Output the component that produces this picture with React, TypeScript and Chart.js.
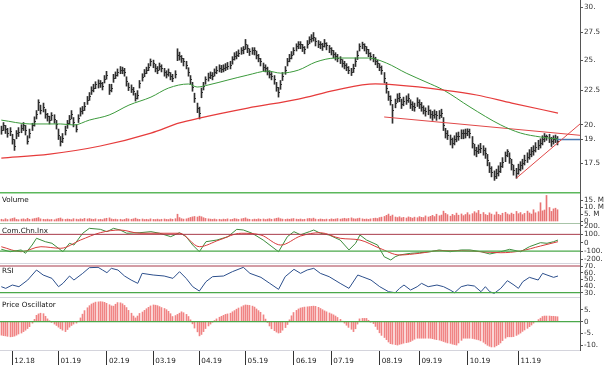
import React, { useEffect, useRef } from 'react';
import { Chart, registerables } from 'chart.js';
Chart.register(...registerables);

const X_MIN = -0.6;
const X_MAX = 263;
const monthIdx = [5, 26, 48, 69, 90, 111, 133, 150, 172, 190, 212, 235];
const monthLabels = ['12.18', '01.19', '02.19', '03.19', '04.19', '05.19', '06.19', '07.19', '08.19', '09.19', '10.19', '11.19'];

const closes = [
  19.63, 19.91, 19.70, 19.43, 19.56, 18.97, 18.58, 19.37, 19.50, 19.77,
  19.91, 19.63, 18.90, 19.43, 19.91, 20.25, 20.75, 21.63, 21.04, 21.26,
  20.75, 20.54, 20.32, 20.61, 20.39, 19.98, 19.30, 18.84, 19.10, 19.63,
  20.05, 20.39, 20.75, 20.12, 19.70, 20.46, 20.90, 21.04, 21.33, 21.78,
  22.08, 22.54, 22.70, 22.94, 23.02, 23.02, 22.86, 23.42, 23.74, 22.54,
  22.70, 23.50, 23.74, 23.98, 24.15, 24.15, 23.98, 23.18, 22.78, 22.62,
  22.46, 21.93, 22.16, 23.02, 23.58, 23.90, 24.15, 24.41, 24.84, 24.67,
  24.32, 24.15, 24.49, 24.32, 23.98, 23.82, 23.98, 23.66, 23.50, 23.82,
  25.44, 25.35, 25.10, 24.84, 24.58, 23.98, 23.34, 22.78, 21.93, 21.18,
  20.82, 22.39, 22.86, 23.34, 23.58, 23.74, 23.66, 23.98, 24.15, 24.32,
  24.24, 24.32, 24.41, 24.49, 24.58, 25.01, 25.35, 25.44, 25.62, 25.80,
  25.89, 26.43, 25.98, 25.71, 25.80, 25.80, 25.44, 25.18, 24.84, 24.41,
  24.32, 24.07, 23.82, 23.66, 23.34, 22.78, 22.39, 22.94, 23.66, 24.15,
  24.84, 25.18, 25.44, 25.80, 26.16, 26.34, 26.34, 26.07, 25.89, 26.43,
  26.80, 26.98, 27.07, 26.62, 26.43, 26.34, 26.16, 26.52, 26.25, 25.98,
  25.80, 25.53, 25.35, 25.18, 25.01, 24.75, 24.58, 24.41, 24.15, 23.98,
  24.32, 24.84, 25.44, 26.16, 26.34, 26.16, 25.89, 25.62, 25.35, 25.18,
  24.92, 24.67, 24.41, 24.15, 23.50, 22.70, 22.08, 21.78, 21.04, 21.55,
  21.93, 22.00, 21.48, 21.70, 21.78, 21.93, 21.48, 21.33, 21.26, 21.63,
  21.48, 21.26, 21.04, 20.90, 21.04, 20.75, 20.61, 20.75, 20.61, 20.68,
  20.82, 19.91, 19.43, 19.30, 18.97, 18.77, 18.97, 19.17, 19.23, 19.37,
  19.37, 19.43, 19.56, 19.43, 18.77, 18.32, 18.20, 18.38, 18.45, 18.32,
  18.13, 17.70, 17.22, 16.98, 16.75, 16.87, 17.04, 17.28, 17.58, 17.95,
  18.20, 17.82, 17.40, 17.10, 16.87, 17.16, 17.34, 17.46, 17.70, 17.88,
  18.07, 18.20, 18.32, 18.51, 18.64, 18.77, 18.97, 19.17, 19.23, 19.10,
  18.84, 18.97, 19.10, 18.90,
];

const highs = [
  19.90, 20.15, 19.95, 19.75, 19.80, 19.35, 19.00, 19.60, 19.80, 20.00,
  20.15, 19.95, 19.25, 19.70, 20.10, 20.55, 21.00, 21.80, 21.40, 21.55,
  21.10, 20.80, 20.60, 20.85, 20.70, 20.30, 19.70, 19.20, 19.40, 19.90,
  20.30, 20.65, 21.00, 20.50, 20.00, 20.70, 21.20, 21.30, 21.60, 22.05,
  22.35, 22.80, 23.00, 23.20, 23.35, 23.30, 23.15, 23.70, 24.05, 23.00,
  23.00, 23.80, 24.00, 24.25, 24.45, 24.40, 24.30, 23.60, 23.10, 22.95,
  22.75, 22.30, 22.50, 23.30, 23.85, 24.20, 24.40, 24.70, 25.10, 25.00,
  24.65, 24.45, 24.75, 24.60, 24.30, 24.10, 24.25, 23.95, 23.80, 24.10,
  26.00, 25.70, 25.40, 25.15, 24.90, 24.35, 23.70, 23.15, 22.30, 21.55,
  21.25, 22.70, 23.15, 23.60, 23.90, 24.00, 23.95, 24.25, 24.45, 24.60,
  24.55, 24.60, 24.70, 24.80, 24.90, 25.30, 25.65, 25.75, 25.90, 26.10,
  26.20, 26.85, 26.35, 26.00, 26.10, 26.10, 25.80, 25.50, 25.15, 24.75,
  24.60, 24.40, 24.10, 23.95, 23.70, 23.15, 22.75, 23.30, 23.95, 24.45,
  25.15, 25.50, 25.75, 26.10, 26.45, 26.65, 26.65, 26.40, 26.20, 26.75,
  27.10, 27.30, 27.50, 27.00, 26.75, 26.65, 26.50, 26.85, 26.55, 26.30,
  26.10, 25.85, 25.65, 25.50, 25.30, 25.05, 24.90, 24.70, 24.45, 24.30,
  24.65, 25.20, 25.80, 26.45, 26.60, 26.45, 26.20, 25.95, 25.65, 25.50,
  25.25, 25.00, 24.70, 24.50, 23.95, 23.15, 22.45, 22.10, 21.45, 21.85,
  22.25, 22.30, 21.85, 22.00, 22.10, 22.25, 21.80, 21.65, 21.55, 21.95,
  21.80, 21.60, 21.35, 21.20, 21.35, 21.05, 20.95, 21.05, 20.95, 21.00,
  21.10, 20.50, 19.75, 19.60, 19.30, 19.10, 19.25, 19.45, 19.50, 19.65,
  19.65, 19.70, 19.72, 19.70, 19.20, 18.70, 18.50, 18.65, 18.75, 18.60,
  18.45, 18.05, 17.55, 17.30, 17.05, 17.15, 17.35, 17.55, 17.85, 18.20,
  18.35, 18.15, 17.75, 17.40, 17.20, 17.45, 17.60, 17.75, 18.00, 18.15,
  18.35, 18.50, 18.60, 18.80, 18.95, 19.05, 19.25, 19.40, 19.30, 19.35,
  19.15, 19.25, 19.30, 19.20,
];

const lows = [
  19.35, 19.60, 19.40, 19.15, 19.25, 18.70, 18.30, 19.05, 19.20, 19.45,
  19.60, 19.30, 18.70, 19.10, 19.60, 19.90, 20.40, 21.00, 20.75, 20.90,
  20.45, 20.25, 20.05, 20.30, 20.10, 19.70, 19.00, 18.58, 18.80, 19.30,
  19.75, 20.05, 20.40, 19.85, 19.50, 20.15, 20.60, 20.75, 21.00, 21.45,
  21.75, 22.20, 22.40, 22.65, 22.70, 22.75, 22.55, 23.10, 23.40, 22.20,
  22.40, 23.15, 23.45, 23.65, 23.85, 23.85, 23.65, 22.85, 22.50, 22.35,
  22.15, 21.70, 21.85, 22.70, 23.25, 23.60, 23.85, 24.10, 24.50, 24.35,
  24.00, 23.85, 24.15, 24.00, 23.65, 23.50, 23.65, 23.35, 23.20, 23.50,
  24.95, 25.00, 24.80, 24.50, 24.25, 23.65, 23.00, 22.45, 21.60, 20.85,
  20.40, 21.95, 22.55, 23.00, 23.25, 23.45, 23.35, 23.65, 23.85, 24.00,
  23.95, 24.00, 24.10, 24.20, 24.25, 24.65, 25.00, 25.10, 25.30, 25.50,
  25.55, 25.95, 25.65, 25.40, 25.50, 25.45, 25.10, 24.85, 24.50, 24.10,
  24.00, 23.75, 23.50, 23.35, 23.00, 22.45, 22.00, 22.60, 23.30, 23.80,
  24.50, 24.85, 25.10, 25.45, 25.80, 26.00, 26.00, 25.75, 25.55, 26.05,
  26.45, 26.60, 26.70, 26.25, 26.10, 26.00, 25.85, 26.15, 25.90, 25.65,
  25.45, 25.20, 25.00, 24.85, 24.70, 24.40, 24.25, 24.10, 23.85, 23.70,
  23.95, 24.45, 25.05, 25.80, 26.00, 25.80, 25.55, 25.30, 25.00, 24.85,
  24.60, 24.35, 24.10, 23.80, 23.10, 22.30, 21.75, 21.40, 20.10, 21.20,
  21.60, 21.65, 21.15, 21.35, 21.45, 21.60, 21.15, 21.00, 20.95, 21.30,
  21.15, 20.95, 20.75, 20.60, 20.70, 20.45, 20.30, 20.45, 20.30, 20.40,
  20.50, 19.60, 19.10, 19.00, 18.65, 18.45, 18.65, 18.85, 18.95, 19.05,
  19.05, 19.10, 19.25, 19.10, 18.45, 18.00, 17.90, 18.10, 18.15, 18.00,
  17.80, 17.35, 16.95, 16.70, 16.50, 16.60, 16.75, 16.95, 17.25, 17.60,
  17.90, 17.50, 17.10, 16.80, 16.62, 16.85, 17.05, 17.15, 17.40, 17.55,
  17.75, 17.90, 18.00, 18.20, 18.35, 18.45, 18.65, 18.85, 18.95, 18.80,
  18.55, 18.70, 18.80, 18.65,
];

const maGreenIdx = [0, 13, 27, 33, 40, 49, 58, 68, 76, 85, 89, 94, 103, 112, 121, 127, 135, 143, 152, 161, 167, 175, 184, 193, 201, 213, 227, 236, 245, 253];
const maGreenVal = [20.32, 20.05, 20.05, 19.98, 20.32, 20.68, 21.40, 22.00, 22.70, 23.02, 22.78, 22.94, 23.34, 23.74, 24.07, 23.90, 24.15, 24.84, 25.18, 25.18, 25.18, 24.75, 23.90, 23.18, 22.54, 21.26, 19.98, 19.43, 19.17, 19.03];

const maRedIdx = [0, 22, 45, 68, 81, 90, 112, 135, 152, 170, 179, 201, 216, 232, 253];
const maRedVal = [17.82, 18.07, 18.58, 19.43, 20.12, 20.46, 21.18, 21.85, 22.54, 23.02, 22.94, 22.54, 22.16, 21.55, 20.82];

const trendDownIdx = [174, 263];
const trendDownVal = [20.54, 19.28];
const trendUpIdx = [234, 263];
const trendUpVal = [16.62, 20.05];
const lastLevelIdx = [252, 263];
const lastLevelVal = [19.0, 19.0];

const priceTicks = [17.5, 19, 20, 22.5, 25, 27.5, 30];

const volumeM = [
  1.6, 1.2, 2.0, 1.4, 1.8, 2.2, 2.6, 1.5, 1.3, 1.7,
  1.9, 1.4, 2.3, 1.6, 1.8, 2.1, 2.4, 2.8, 1.9, 1.6,
  1.4, 1.7, 1.3, 1.5, 1.2, 1.8, 2.2, 2.5, 1.7, 1.5,
  1.8, 1.6, 1.3, 2.0, 1.7, 1.4, 1.9, 1.6, 2.2, 1.8,
  2.1, 1.7, 1.5, 1.9, 1.4, 1.6, 1.3, 2.0, 2.3, 2.6,
  1.8, 1.5, 1.7, 1.4, 1.6, 1.2, 1.5, 2.1, 1.8, 1.6,
  1.9, 2.4, 1.7, 1.5, 1.8, 1.4, 1.6, 1.3, 1.9, 1.5,
  1.4, 1.7, 1.3, 1.6, 1.8, 1.5, 1.4, 1.9, 1.6, 2.0,
  5.2, 2.8, 2.0, 1.7, 1.9, 2.4, 2.9, 3.3, 3.6, 3.2,
  3.8, 3.4, 2.7, 2.2, 1.9, 1.7, 1.5, 1.8, 1.4, 1.6,
  1.3, 1.7, 1.5, 1.9, 1.4, 1.6, 2.1, 1.8, 1.5, 1.9,
  2.2, 2.6, 1.8, 1.6, 1.4, 1.7, 1.5, 1.9, 1.6, 1.8,
  1.4, 1.7, 2.0, 1.6, 1.9, 2.3, 2.6, 2.0, 1.7, 1.5,
  1.8, 1.6, 1.9, 2.1, 1.7, 1.5, 1.8, 1.4, 1.6, 2.0,
  2.2, 1.9, 2.4, 1.7, 1.5, 1.8, 1.6, 1.4, 1.7, 1.5,
  1.9, 1.6, 1.8, 2.1, 1.7, 2.0, 2.3, 1.9, 2.2, 2.6,
  2.0, 1.8, 2.1, 2.4, 1.9, 1.6, 1.8, 1.5, 1.9, 2.2,
  2.4, 2.1, 2.8, 3.1, 3.6, 4.4, 5.3, 3.8, 4.6, 3.2,
  2.8, 3.4, 2.6, 3.0, 2.5, 3.3, 2.9, 2.4, 3.1, 2.7,
  3.5, 3.0, 2.8, 4.0, 3.2, 3.7, 4.4, 3.5, 5.2, 4.1,
  4.6, 7.4, 5.8, 4.9, 3.8, 5.1, 4.3, 6.0, 4.5, 5.4,
  4.2, 5.0, 6.3, 4.8, 5.6, 7.0, 6.1, 7.9, 5.2, 6.4,
  5.0, 4.4, 6.2, 5.3, 4.7, 6.8, 5.1, 4.5, 5.9, 6.6,
  5.4, 4.8, 6.0, 5.2, 7.2, 5.6, 6.4, 4.9, 5.8, 7.4,
  6.1, 5.3, 8.4, 6.2, 7.0, 13.4, 7.6, 8.2, 18.6, 10.0,
  7.2, 9.0, 9.5, 8.4,
];
const volumeTicks = [0, 5, 10, 15];

const cciIdx = [0, 4, 9, 11, 14, 16, 20, 23, 28, 31, 33, 37, 40, 45, 48, 51, 54, 57, 63, 68, 72, 77, 81, 84, 87, 90, 93, 98, 103, 107, 110, 114, 119, 123, 126, 130, 133, 136, 140, 142, 145, 149, 154, 158, 161, 163, 166, 171, 174, 177, 179, 181, 186, 190, 195, 199, 204, 209, 213, 218, 222, 227, 231, 236, 240, 245, 248, 251, 253];
const cciVal = [-79, -108, -87, -127, -28, 53, 12, -7, -108, -7, -28, 113, 172, 160, 132, 172, 152, 113, 120, 132, 113, 72, 120, 72, -28, -108, 12, 32, 72, 160, 152, 113, 32, -48, -108, 72, 132, 95, 132, 152, 113, 92, 32, -87, -7, 92, 32, -28, -168, -207, -168, -147, -127, -120, -108, -87, -108, -87, -87, -108, -135, -108, -79, -108, -48, 0, -7, 12, 32];
const cciSignalIdx = [0, 9, 18, 27, 36, 45, 54, 63, 72, 81, 90, 99, 109, 118, 127, 136, 145, 154, 163, 172, 181, 190, 199, 209, 218, 227, 236, 245, 253];
const cciSignalVal = [-48, -108, -48, -67, 32, 120, 152, 113, 113, 113, -48, 32, 113, 92, -28, 80, 120, 53, 32, -67, -147, -127, -96, -96, -108, -120, -99, -40, 12];
const cciTicks = [-200, -100, 0, 100, 200];

const rsiIdx = [0, 2, 5, 8, 12, 14, 16, 19, 23, 26, 28, 31, 33, 37, 40, 44, 46, 48, 50, 53, 56, 59, 62, 64, 69, 74, 78, 81, 84, 87, 90, 93, 96, 101, 105, 110, 113, 118, 122, 126, 129, 133, 136, 139, 142, 145, 149, 154, 158, 162, 164, 168, 172, 176, 179, 181, 183, 186, 189, 191, 194, 198, 201, 204, 206, 209, 212, 215, 218, 220, 222, 224, 227, 230, 233, 235, 237, 240, 244, 246, 248, 251, 253];
const rsiVal = [39, 36.5, 41.5, 39, 49, 56.5, 64, 56.5, 51.5, 39, 44, 55, 49, 59, 67.5, 68, 64, 60, 66.5, 64, 55, 49, 44, 59, 56.5, 55, 51.5, 61.5, 51.5, 39, 32.5, 46.5, 54, 55, 61.5, 68, 59, 53, 44, 35, 54, 65, 59, 64, 66.5, 59, 54, 44, 36.5, 56.5, 54, 49, 39, 31.5, 30, 36.5, 41.5, 34, 39, 44, 39, 41.5, 39, 34, 30, 39, 41.5, 40, 31.5, 39, 31.5, 29, 36.5, 48, 41.5, 36.5, 46.5, 53, 49, 59, 56.5, 53, 55];
const rsiTicks = [30, 40, 50, 60, 70];

const oscVal = [
  -5.7, -5.9, -6.0, -6.2, -6.4, -6.3, -6.1, -5.7, -5.2, -4.8,
  -4.2, -3.6, -2.9, -2.1, -0.6, 1.0, 2.7, 3.3, 3.6, 3.4,
  2.3, 1.2, 0.4, -0.3, -1.0, -1.6, -2.3, -3.0, -3.6, -4.2,
  -3.3, -2.3, -1.6, -1.0, -0.6, 0.2, 1.6, 3.2, 4.7, 5.9,
  6.8, 7.5, 7.9, 8.3, 8.4, 8.5, 8.4, 8.2, 7.8, 7.2,
  6.7, 6.6, 7.4, 8.1, 8.0, 7.6, 6.9, 6.0, 4.8, 3.6,
  2.4, 1.6, 2.4, 3.5, 4.1, 4.8, 5.5, 6.1, 6.7, 7.1,
  7.0, 6.8, 6.4, 6.0, 5.6, 5.1, 4.4, 3.4, 2.2, 2.6,
  3.1, 3.6, 4.2, 3.8, 3.1, 2.2, 0.8, -0.9, -2.7, -4.3,
  -6.0, -5.4, -4.2, -2.9, -1.8, -1.0, -0.2, 0.5, 1.2, 1.9,
  2.3, 2.7, 3.1, 3.3, 3.6, 4.2, 4.7, 5.3, 5.8, 6.3,
  6.8, 7.1, 7.0, 6.9, 6.6, 6.2, 5.4, 4.7, 4.0, 2.9,
  1.1, -0.3, -1.8, -3.0, -3.8, -4.4, -4.8, -4.6, -3.6, -2.5,
  -1.2, 0.8, 2.5, 3.9, 4.8, 5.4, 5.8, 6.0, 6.2, 6.3,
  6.4, 6.5, 6.6, 6.5, 6.1, 5.6, 5.1, 4.6, 4.2, 3.7,
  3.3, 2.9, 2.4, 1.8, 1.0, 0.2, -0.6, -1.5, -2.4, -3.2,
  -4.2, -3.0, -1.0, 1.2, 1.4, 1.4, 1.4, 0.6, -0.2, -0.8,
  -2.0, -3.3, -4.7, -5.8, -6.7, -7.6, -8.6, -9.3, -9.5, -9.7,
  -9.9, -9.6, -9.4, -9.1, -8.9, -8.7, -8.4, -7.9, -7.4, -7.0,
  -7.0, -7.0, -7.0, -7.0, -7.0, -7.0, -7.2, -7.4, -7.6, -7.8,
  -8.1, -8.4, -8.7, -9.0, -9.2, -9.5, -9.7, -9.9, -9.0, -7.9,
  -7.0, -7.0, -7.0, -7.0, -7.1, -7.3, -7.5, -7.7, -8.1, -8.7,
  -9.4, -10.0, -10.4, -10.7, -10.7, -10.2, -9.7, -9.0, -8.0, -7.0,
  -6.4, -6.4, -6.4, -6.3, -5.8, -5.3, -4.8, -4.1, -3.5, -2.8,
  -2.1, -1.4, -0.6, 0.0, 0.9, 1.5, 2.2, 2.4, 2.4, 2.4,
  2.3, 2.3, 2.2, 2.1,
];
const oscTicks = [-10, -5, 0, 5];

const FONT = 'DejaVu Sans';
const tickFont = { family: FONT, size: 7.2 };

const pts = (idx: number[], val: number[]) => idx.map((x, i) => ({ x, y: val[i] }));
const hline = (v: number) => [{ x: X_MIN, y: v }, { x: X_MAX, y: v }];
const fmt = (v: number) => (v === 0 ? '0' : Number.isInteger(v) ? `${v}.` : `${v}`);
const fmtVol = (v: number) => (v === 0 ? '0' : `${v}. M`);

const xHidden = { type: 'linear', min: X_MIN, max: X_MAX, display: false, offset: false, grid: { offset: false } };

function yAxis(min: number, max: number, tickVals: number[], f: (v: number) => string, type = 'linear') {
  return {
    type,
    position: 'right',
    min,
    max,
    afterBuildTicks: (s: any) => { s.ticks = tickVals.map((v) => ({ value: v })); },
    afterFit: (s: any) => { s.width = 25; s.paddingTop = 0; s.paddingBottom = 0; },
    grid: { drawOnChartArea: false, drawTicks: true, tickLength: 3, color: '#555' },
    border: { display: true, color: '#555' },
    ticks: { autoSkip: false, padding: 1, color: '#333', font: tickFont, callback: (v: any) => f(Number(v)) },
  };
}

const base = {
  responsive: false,
  maintainAspectRatio: false,
  animation: false,
  devicePixelRatio: 1,
  events: [],
  layout: { padding: 0 },
  plugins: { legend: { display: false }, tooltip: { enabled: false } },
};

const crispBars = {
  id: 'crispBars',
  beforeDatasetsDraw(chart: any) {
    chart.data.datasets.forEach((_: any, i: number) => {
      const meta = chart.getDatasetMeta(i);
      if (meta.type !== 'bar') return;
      meta.data.forEach((el: any) => { el.x = Math.round(el.x - 0.5) + 0.5; });
    });
  },
};

const BAR_COLOR = '#2e2e2e';

const closeTicks = {
  id: 'closeTicks',
  afterDatasetDraw(chart: any, args: any) {
    if (args.index !== 0) return;
    const ctx = chart.ctx;
    const ys = chart.scales.y;
    ctx.save();
    ctx.fillStyle = BAR_COLOR;
    args.meta.data.forEach((el: any, i: number) => {
      const yc = Math.round(ys.getPixelForValue(closes[i]) - 0.5);
      ctx.fillRect(el.x + 0.5, yc, 1, 1);
    });
    ctx.restore();
  },
};

function deco(title: string, topColor: string, topWidth: number) {
  return {
    id: 'deco',
    afterDraw(chart: any) {
      const ctx = chart.ctx;
      const a = chart.chartArea;
      ctx.save();
      ctx.strokeStyle = topColor;
      ctx.lineWidth = topWidth;
      ctx.beginPath();
      ctx.moveTo(0, a.top + topWidth / 2);
      ctx.lineTo(a.right, a.top + topWidth / 2);
      ctx.stroke();
      ctx.font = `7.2px "${FONT}"`;
      ctx.fillStyle = '#111';
      ctx.textBaseline = 'middle';
      ctx.textAlign = 'left';
      ctx.fillText(title, 2, a.top + 8);
      ctx.restore();
    },
  };
}

const lineDs = (data: any[], color: string, width: number, extra: any = {}) => ({
  type: 'line',
  data,
  borderColor: color,
  borderWidth: width,
  pointRadius: 0,
  fill: false,
  ...extra,
});

function mainConfig(): any {
  return {
    type: 'bar',
    data: {
      datasets: [
        {
          type: 'bar',
          data: closes.map((_, i) => ({ x: i, y: [lows[i], highs[i]] })),
          backgroundColor: BAR_COLOR,
          borderWidth: 0,
          barThickness: 1,
          order: 10,
        },
        lineDs(pts(maRedIdx, maRedVal), '#e63c3c', 1.25, { cubicInterpolationMode: 'monotone' }),
        lineDs(pts(maGreenIdx, maGreenVal), '#3c9a3c', 1, { cubicInterpolationMode: 'monotone' }),
        lineDs(pts(trendDownIdx, trendDownVal), '#e04848', 1),
        lineDs(pts(trendUpIdx, trendUpVal), '#e04848', 1),
        lineDs(pts(lastLevelIdx, lastLevelVal), '#4a78b0', 1.5),
      ],
    },
    options: {
      ...base,
      scales: {
        x: xHidden,
        y: yAxis(15.85, 30.77, priceTicks, fmt, 'logarithmic'),
      },
    },
    plugins: [crispBars, closeTicks],
  };
}

function volumeConfig(): any {
  return {
    type: 'bar',
    data: {
      datasets: [
        {
          data: volumeM.map((v, i) => ({ x: i, y: v })),
          backgroundColor: '#e87474',
          borderWidth: 0,
          barThickness: 1,
        },
      ],
    },
    options: { ...base, scales: { x: xHidden, y: yAxis(-1.07, 21.07, volumeTicks, fmtVol) } },
    plugins: [crispBars, deco('Volume', '#5cb85c', 1.5)],
  };
}

function cciConfig(): any {
  return {
    type: 'line',
    data: {
      datasets: [
        lineDs(hline(100), '#a83a4a', 1),
        lineDs(hline(-100), '#4aa84a', 1.2),
        lineDs(pts(cciSignalIdx, cciSignalVal), '#d83c3c', 1, { cubicInterpolationMode: 'monotone' }),
        lineDs(pts(cciIdx, cciVal), '#3c8c3c', 1),
      ],
    },
    options: { ...base, scales: { x: xHidden, y: yAxis(-243.1, 235.9, cciTicks, fmt) } },
    plugins: [deco('Com.Chn.Inx', '#a8c4a8', 1)],
  };
}

function rsiConfig(): any {
  return {
    type: 'line',
    data: {
      datasets: [
        lineDs(hline(70), '#a83a4a', 1),
        lineDs(hline(30), '#4aa84a', 1.2),
        lineDs(pts(rsiIdx, rsiVal), '#2c4f8c', 1),
      ],
    },
    options: { ...base, scales: { x: xHidden, y: yAxis(23.56, 74.5, rsiTicks, fmt) } },
    plugins: [deco('RSI', '#d4d4dc', 1)],
  };
}

function oscConfig(): any {
  return {
    type: 'bar',
    data: {
      datasets: [
        {
          type: 'bar',
          data: oscVal.map((v, i) => ({ x: i, y: v })),
          backgroundColor: '#f08484',
          borderWidth: 0,
          barThickness: 1,
          order: 10,
        },
        lineDs(hline(0), '#4aa84a', 1.2),
      ],
    },
    options: {
      ...base,
      scales: {
        x: {
          type: 'linear',
          min: X_MIN,
          max: X_MAX,
          position: 'bottom',
          offset: false,
          afterBuildTicks: (s: any) => { s.ticks = monthIdx.map((v) => ({ value: v })); },
          afterFit: (s: any) => { s.height = 17; s.paddingLeft = 0; s.paddingRight = 0; },
          grid: { offset: false, drawOnChartArea: false, drawTicks: true, tickLength: 15, color: '#333' },
          border: { display: true, color: '#d4d4dc' },
          ticks: {
            autoSkip: false,
            maxRotation: 0,
            minRotation: 0,
            align: 'start',
            labelOffset: 2,
            padding: -8,
            color: '#222',
            font: tickFont,
            callback: (v: any) => {
              const k = monthIdx.indexOf(Number(v));
              return k >= 0 ? monthLabels[k] : '';
            },
          },
        },
        y: yAxis(-11.99, 10.47, oscTicks, fmt),
      },
    },
    plugins: [crispBars, deco('Price Oscillator', '#d4d4dc', 1)],
  };
}

export default function App() {
  const r1 = useRef<HTMLCanvasElement>(null);
  const r2 = useRef<HTMLCanvasElement>(null);
  const r3 = useRef<HTMLCanvasElement>(null);
  const r4 = useRef<HTMLCanvasElement>(null);
  const r5 = useRef<HTMLCanvasElement>(null);

  useEffect(() => {
    Chart.defaults.font.family = FONT;
    const charts = [
      new Chart(r1.current as HTMLCanvasElement, mainConfig()),
      new Chart(r2.current as HTMLCanvasElement, volumeConfig()),
      new Chart(r3.current as HTMLCanvasElement, cciConfig()),
      new Chart(r4.current as HTMLCanvasElement, rsiConfig()),
      new Chart(r5.current as HTMLCanvasElement, oscConfig()),
    ];
    return () => charts.forEach((c) => c.destroy());
  }, []);

  const cs = (top: number, h: number): React.CSSProperties => ({
    position: 'absolute',
    left: 0,
    top,
    width: 605,
    height: h,
    display: 'block',
  });

  return (
    <div style={{ position: 'absolute', left: 0, top: 0, width: 605, height: 367, background: '#fff', overflow: 'hidden' }}>
      <canvas ref={r1} width={605} height={192} style={cs(0, 192)} />
      <canvas ref={r2} width={605} height={31} style={cs(192, 31)} />
      <canvas ref={r3} width={605} height={40} style={cs(223, 40)} />
      <canvas ref={r4} width={605} height={34} style={cs(263, 34)} />
      <canvas ref={r5} width={605} height={70} style={cs(297, 70)} />
    </div>
  );
}
